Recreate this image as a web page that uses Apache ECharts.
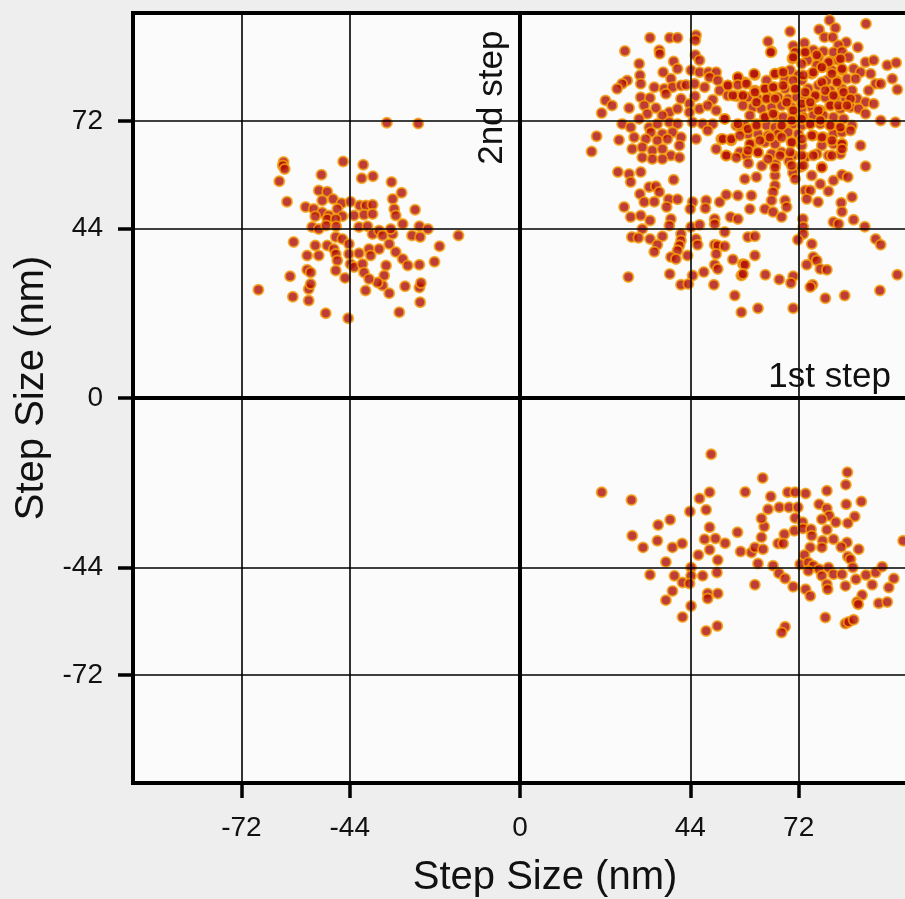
<!DOCTYPE html>
<html>
<head>
<meta charset="utf-8">
<title>Step Size Scatter</title>
<script src="https://cdn.jsdelivr.net/npm/echarts@6/dist/echarts.min.js"></script>
<style>
  html, body { margin: 0; padding: 0; background: #eeeeee; }
  #chart { width: 905px; height: 899px; }
</style>
</head>
<body>
<div id="chart"></div>
<script>
// Tick positions shown on both axes (nm)
const tickValues = [-72, -44, 0, 44, 72];
const gridValues = [-72, -44, 44, 72];

// Pairs of consecutive steps: [1st step, 2nd step] in nm
// Backward then forward: upper-left quadrant
const backForward = [
  [-34.4,71.5],[-26.3,71.3],[-61.1,61.3],[-61.3,60.4],[-60.8,59.5],[-45.7,61.4],[-40.5,60.6],
  [-62.2,56.3],[-51.3,58.0],[-40.9,57.1],[-38.0,57.6],[-33.2,56.1],[-30.6,53.3],[-60.2,51.0],
  [-52.0,53.9],[-49.8,53.6],[-51.1,51.3],[-48.3,51.7],[-46.1,50.6],[-43.8,51.0],[-55.4,49.6],
  [-53.3,49.1],[-51.1,48.2],[-49.4,47.4],[-47.2,49.1],[-45.9,47.2],[-52.9,47.2],[-49.8,46.5],
  [-47.6,46.5],[-41.4,50.0],[-39.8,50.0],[-38.1,50.2],[-42.9,47.4],[-40.3,47.6],[-38.1,47.8],
  [-32.9,51.7],[-32.5,49.1],[-32.1,47.4],[-30.3,45.2],[-27.1,48.9],[-53.7,44.4],[-52.0,43.9],
  [-50.1,44.8],[-47.5,44.6],[-41.6,44.4],[-39.4,44.6],[-26.0,44.6],[-23.8,43.9],[-15.9,42.2],
  [-58.5,40.5],[-52.9,39.6],[-49.8,39.6],[-47.6,41.8],[-45.9,41.3],[-44.2,40.0],[-48.1,38.7],
  [-38.1,42.6],[-36.4,43.5],[-35.5,42.2],[-32.9,42.6],[-33.4,43.9],[-27.9,42.2],[-25.8,41.8],
  [-55.0,37.0],[-47.6,37.4],[-44.2,37.4],[-41.6,37.6],[-39.0,38.7],[-36.4,38.7],[-33.8,40.0],
  [-32.1,37.9],[-30.3,36.1],[-29.0,34.4],[-26.0,34.6],[-20.8,39.4],[-22.1,35.4],[-52.0,37.0],
  [-47.2,35.7],[-43.8,34.8],[-42.9,34.0],[-40.7,34.8],[-38.6,37.0],[-34.6,34.4],[-35.1,31.8],
  [-35.5,29.2],[-36.8,30.0],[-55.0,33.3],[-54.1,32.6],[-47.6,33.1],[-45.2,31.2],[-40.3,32.6],
  [-39.0,30.9],[-59.4,31.6],[-67.6,28.1],[-58.7,26.3],[-54.6,28.3],[-54.1,29.6],[-54.6,25.3],
  [-50.2,22.0],[-44.4,20.7],[-39.9,27.9],[-33.8,27.2],[-29.7,29.0],[-26.0,28.7],[-25.6,29.9],
  [-25.8,24.9],[-31.2,22.3]
];

// Forward then forward: upper-right quadrant
const forwardForward = [
  [33.6,93.6],[38.7,93.6],[40.7,93.6],[45.5,94.2],[45.3,92.9],[27.1,90.1],[36.0,90.3],[36.1,89.4],
  [45.3,89.1],[46.4,87.7],[30.8,86.8],[39.7,87.4],[40.7,85.5],[37.0,84.6],[44.2,85.1],[46.4,84.6],
  [48.7,84.6],[50.7,84.6],[31.0,83.8],[39.0,82.9],[27.7,82.5],[26.4,81.6],[25.1,80.3],[31.2,81.6],
  [34.7,80.7],[37.3,80.3],[39.4,80.7],[41.6,81.2],[42.9,81.3],[45.1,81.6],[47.7,80.7],[49.0,83.3],
  [51.1,82.5],[53.7,81.2],[56.3,83.3],[51.6,79.9],[53.7,78.6],[55.9,78.4],[57.6,78.4],[31.2,78.1],
  [33.6,77.9],[37.7,79.0],[41.6,77.7],[45.2,78.4],[43.8,76.4],[49.8,77.5],[22.1,77.3],[23.8,76.0],
  [21.1,74.0],[28.2,75.3],[32.1,76.0],[35.1,75.3],[38.6,74.2],[40.7,75.1],[43.8,74.2],[46.4,75.1],
  [48.5,76.0],[50.7,74.7],[32.9,73.8],[36.8,73.4],[30.8,72.5],[26.4,71.2],[28.6,70.3],[33.4,70.3],
  [35.5,71.2],[38.6,71.6],[40.7,71.2],[44.6,71.6],[47.2,71.2],[49.8,71.2],[52.9,72.5],[55.9,70.8],
  [57.2,69.9],[33.8,69.0],[36.8,68.6],[39.4,69.0],[41.6,67.7],[48.5,69.5],[19.8,68.0],[25.6,67.0],
  [29.5,67.7],[32.5,67.3],[35.5,66.9],[38.1,67.3],[45.5,67.3],[52.0,67.3],[54.6,66.9],[18.5,64.0],
  [29.0,64.7],[31.6,65.1],[34.2,64.3],[36.8,64.7],[41.2,65.6],[39.0,63.0],[36.8,62.1],[41.2,62.5],
  [50.7,64.7],[53.3,63.0],[56.8,63.8],[31.6,62.5],[34.2,62.1],
  [80.0,98.1],[89.4,97.2],[81.5,96.1],[77.3,95.7],[69.8,95.2],[78.7,93.7],[80.8,93.7],[64.1,92.6],
  [84.3,92.4],[82.3,91.6],[65.0,90.0],[70.6,91.4],[73.5,92.2],[87.3,91.1],[71.1,89.8],[73.7,89.8],
  [75.8,90.3],[78.4,90.0],[81.0,89.8],[83.2,90.0],[70.4,88.1],[74.3,87.7],[77.1,88.5],[80.2,87.4],
  [82.3,87.7],[84.9,88.5],[89.3,87.2],[91.4,87.7],[94.9,86.4],[97.2,87.1],[78.0,85.9],[80.6,85.1],
  [83.2,85.1],[86.2,85.5],[88.0,84.6],[90.6,84.2],[60.7,83.9],[65.9,84.2],[67.6,84.6],[69.8,85.1],
  [71.9,83.8],[75.4,84.2],[76.7,86.4],[96.2,82.9],[58.1,82.0],[63.7,82.5],[68.5,82.7],[72.8,82.5],
  [79.3,82.5],[81.9,82.5],[84.5,82.9],[86.7,82.9],[91.9,81.6],[93.2,81.6],[60.7,79.9],[63.3,80.3],
  [65.7,80.7],[68.5,80.3],[71.1,80.3],[74.5,80.3],[77.1,81.2],[80.2,79.9],[83.2,80.3],[85.8,79.9],
  [90.1,79.9],[97.5,80.1],[58.9,78.1],[61.5,77.7],[64.1,78.1],[66.7,78.1],[69.3,77.7],[71.5,78.1],
  [73.7,77.7],[76.3,78.1],[78.9,78.1],[81.5,78.1],[84.1,77.7],[87.1,77.7],[89.3,76.8],[91.4,76.4],
  [57.6,76.0],[60.2,75.5],[62.4,75.1],[65.0,75.5],[67.6,76.0],[70.2,75.5],[72.8,75.1],[75.4,75.5],
  [77.6,74.7],[80.2,76.0],[82.8,75.1],[85.4,75.5],[87.5,75.1],[59.4,73.4],[63.3,72.9],[65.9,73.4],
  [68.0,72.9],[70.6,73.4],[73.2,72.9],[75.8,73.4],[78.4,73.4],[81.0,72.9],[83.6,72.5],[89.3,73.8],
  [93.2,72.1],[97.0,71.6],[58.1,70.8],[61.1,71.2],[63.7,70.8],[65.9,70.3],[68.0,70.8],[70.6,71.2],
  [72.8,70.8],[75.0,71.2],[77.6,71.2],[80.2,70.8],[82.3,70.3],[85.8,70.8],[58.9,68.6],[61.5,68.6],
  [64.1,68.2],[66.7,68.6],[69.3,69.0],[71.9,68.6],[75.8,68.2],[78.4,67.7],[81.0,68.6],[83.2,69.0],
  [59.8,66.0],[63.3,66.4],[65.9,66.0],[70.2,66.4],[72.8,65.6],[78.0,65.6],[81.0,66.0],[83.2,66.0],
  [88.0,65.6],[61.5,63.8],[65.0,63.4],[67.6,63.8],[70.6,63.0],[73.7,62.5],[76.7,63.4],[79.7,63.0],
  [82.8,63.4],[58.5,63.0],
  [59.0,61.0],[62.5,60.3],[66.0,60.8],[69.5,61.5],[72.5,60.0],[70.5,58.5],
  [25.3,58.7],[28.2,58.2],[31.2,58.7],[28.6,56.1],[39.7,56.7],[31.0,53.0],[33.4,54.8],[35.1,55.0],
  [36.0,53.5],[32.1,50.9],[34.7,51.0],[38.4,51.6],[40.7,51.6],[26.9,49.6],[28.6,47.0],[31.2,47.4],
  [33.6,46.1],[37.9,49.6],[39.0,46.5],[38.6,44.8],[31.6,43.9],[28.9,41.8],[30.6,41.6],[33.6,41.3],
  [36.8,42.0],[41.6,42.6],[41.6,40.9],[35.5,39.8],[34.7,38.0],[41.2,39.6],[40.7,38.3],[39.0,36.6],
  [40.3,36.1],[43.3,37.0],[28.0,31.4],[38.7,32.2],[44.6,31.8],[47.5,32.7],[41.6,29.4],[43.5,29.6],
  [50.1,29.4],[55.5,26.6],[57.2,22.3],[44.6,50.9],[44.0,49.1],[48.1,51.3],[47.9,49.3],[51.6,50.9],
  [53.3,52.8],[56.3,52.6],[54.4,47.0],[56.3,46.5],[50.3,46.5],[50.3,45.2],[44.2,44.4],[46.4,45.0],
  [45.5,41.3],[45.9,39.8],[52.9,43.1],[50.3,39.8],[51.1,39.6],[52.9,39.4],[50.7,37.4],[50.3,34.6],
  [51.1,33.5],[55.0,36.0],[57.2,31.8],[57.6,34.8],[58.1,56.9],
  [61.1,57.4],[65.9,57.8],[65.9,55.2],[71.1,56.9],[59.8,52.6],[65.4,53.5],[65.0,51.3],[68.5,51.3],
  [68.9,49.6],[59.4,49.1],[63.3,49.1],[65.4,48.3],[67.6,47.0],[75.4,57.8],[78.0,60.0],[81.0,56.5],
  [83.2,58.0],[84.7,57.4],[89.3,60.2],[77.6,55.6],[79.7,53.7],[73.7,53.9],[75.0,53.9],[74.1,51.7],
  [77.0,50.9],[83.0,50.7],[85.8,52.2],[83.2,48.4],[81.0,45.7],[82.3,45.2],[86.2,46.3],[89.1,44.5],
  [73.1,46.5],[73.2,44.4],[73.2,42.6],[71.8,41.1],[75.4,40.0],[91.9,41.3],[93.2,39.8],[58.9,41.8],
  [60.7,42.0],[60.7,37.0],[58.1,34.6],[57.6,32.2],[63.4,32.0],[67.0,30.8],[70.6,31.6],[70.0,29.9],
  [75.8,36.6],[76.7,35.7],[74.1,34.6],[77.6,33.5],[79.3,33.3],[75.6,29.4],[75.0,28.8],[97.5,32.0],
  [93.0,27.9],[78.9,25.9],[83.9,26.6],[61.5,23.3],[70.6,23.3],
  // densest part of the forward-forward cloud
  [64.8,89.8],[70.6,88.5],[73.7,89.8],[76.7,89.1],[79.7,87.2],[82.8,88.1],[72.8,86.8],
  [56.3,83.3],[60.5,84.2],[65.9,84.2],[68.0,84.6],[70.6,82.5],[73.2,83.8],[75.8,84.6],[78.0,85.9],
  [80.6,84.2],[83.2,85.5],[78.0,82.0],[81.9,82.0],
  [53.7,81.2],[56.3,81.3],[58.5,81.6],[60.7,79.4],[63.3,80.3],[65.4,80.7],[68.0,81.2],[71.1,80.3],
  [73.7,79.4],[76.3,78.6],[78.9,79.9],[81.0,78.6],[83.6,79.4],[85.4,77.7],
  [55.0,78.6],[57.6,78.6],[61.1,76.8],[63.7,77.7],[65.9,77.7],[68.9,76.8],[70.6,74.7],[72.8,76.4],
  [75.0,76.8],[77.1,74.7],[80.2,76.0],[82.3,76.0],[84.5,76.0],
  [52.9,72.5],[56.3,71.2],[58.9,69.9],[61.1,70.8],[63.3,72.9],[65.4,73.8],[67.6,70.8],[70.2,72.1],
  [72.8,72.5],[75.0,71.2],[77.6,72.1],[80.2,70.8],[82.8,70.3],[85.4,69.5],
  [52.4,67.3],[54.6,67.3],[56.8,68.2],[59.4,66.0],[62.0,66.9],[64.6,67.7],[67.6,67.7],[70.2,66.4],
  [72.8,67.3],[75.4,68.2],[78.0,67.7],[80.6,66.9],[83.2,66.0],
  [53.3,63.0],[55.9,62.5],[58.9,64.3],[61.5,63.8],[64.1,62.1],[67.2,63.0],[69.8,63.8],[72.8,63.0],
  [75.8,63.0],[80.6,63.0],[83.2,64.7],[65.9,59.9],[70.2,60.4],[73.2,60.4],[78.0,59.9]
];

// Forward then backward: lower-right quadrant
const forwardBack = [
  [49.4,-14.6],[62.7,-20.8],[21.1,-24.5],[28.8,-26.5],[58.2,-24.4],[46.4,-26.1],[49.0,-24.5],
  [43.9,-29.5],[48.1,-29.0],[35.7,-33.0],[38.8,-31.6],[29.0,-35.8],[35.5,-37.1],[31.8,-38.8],
  [39.4,-38.8],[41.9,-37.8],[49.0,-33.6],[47.7,-36.7],[49.0,-39.4],[50.5,-36.5],[53.0,-37.7],
  [46.1,-40.8],[51.1,-42.1],[56.2,-34.9],[37.7,-42.6],[33.6,-45.9],[39.9,-46.2],[42.0,-47.9],
  [44.2,-44.0],[44.2,-46.2],[43.8,-48.2],[47.2,-46.2],[50.9,-45.3],[39.4,-50.1],[37.7,-52.5],
  [48.5,-50.8],[51.1,-50.8],[48.5,-52.1],[44.2,-54.0],[42.0,-56.9],[48.1,-60.5],[51.0,-59.2],
  [57.0,-39.9],[59.8,-40.1],[60.7,-38.8],[62.8,-39.3],[62.4,-36.2],[63.1,-33.4],[62.4,-31.3],
  [61.5,-43.0],[60.7,-48.5],[64.8,-25.6],[64.1,-28.9],[67.0,-28.4],[69.5,-28.4],[69.2,-24.5],
  [71.1,-24.5],[71.8,-28.4],[73.8,-24.8],[68.3,-35.4],[66.7,-37.8],[68.0,-37.8],[65.4,-43.6],
  [66.9,-45.5],[68.5,-46.9],[70.6,-49.0],[71.1,-31.2],[73.0,-32.3],[70.9,-34.5],[73.1,-33.9],
  [75.2,-34.1],[75.4,-35.8],[75.0,-38.8],[73.5,-40.8],[72.4,-43.2],[74.5,-42.7],[75.8,-43.6],
  [74.5,-44.9],[77.3,-44.5],[78.0,-46.2],[79.7,-44.0],[81.0,-45.8],[73.8,-49.7],[75.0,-51.4],
  [68.5,-59.4],[67.6,-60.9],[78.9,-57.0],[79.3,-24.1],[77.3,-27.6],[79.3,-28.7],[79.9,-30.6],
  [78.0,-31.5],[81.6,-32.3],[79.3,-34.2],[81.0,-36.7],[78.2,-37.1],[78.0,-38.8],[84.6,-19.3],
  [84.2,-22.5],[84.3,-27.6],[88.2,-26.9],[86.5,-30.8],[84.7,-32.5],[84.5,-37.5],[83.0,-38.7],
  [87.5,-39.3],[84.7,-41.2],[85.4,-41.9],[86.0,-44.0],[83.2,-45.8],[79.3,-48.4],[79.5,-49.7],
  [84.1,-48.8],[86.8,-47.1],[89.4,-46.0],[91.9,-45.3],[93.6,-43.8],[96.6,-46.9],[95.3,-49.2],
  [91.0,-48.5],[88.4,-51.2],[87.1,-53.0],[87.4,-53.6],[92.7,-53.3],[94.9,-53.0],[99.0,-37.1],
  [84.1,-58.6],[84.9,-58.2],[86.2,-57.6]
];

const FONT = '"Liberation Sans", Arial, Helvetica, sans-serif';

const chart = echarts.init(document.getElementById('chart'), null, { renderer: 'canvas' });

const valueAxis = (extra) => Object.assign({
  type: 'value',
  min: -100,
  max: 100,
  axisLine: { show: false, onZero: false },
  splitLine: { show: false },
  axisTick: {
    show: true,
    inside: false,
    length: 15,
    customValues: tickValues,
    lineStyle: { color: '#000', width: 3.5 }
  },
  name: 'Step Size (nm)',
  nameLocation: 'middle'
}, extra);

const dotStyle = {
  color: '#b00e06',
  borderColor: '#f4a00a',
  borderWidth: 2
};

const referenceLines = [];
gridValues.forEach(v => {
  referenceLines.push({ xAxis: v, lineStyle: { width: 1.6 } });
  referenceLines.push({ yAxis: v, lineStyle: { width: 1.6 } });
});
referenceLines.push({ xAxis: 0, lineStyle: { width: 4 } });
referenceLines.push({ yAxis: 0, lineStyle: { width: 4 } });

const option = {
  backgroundColor: '#eeeeee',
  animation: false,
  grid: {
    left: 133,
    top: 13,
    width: 774,
    height: 770,
    outerBoundsMode: 'none',
    show: true,
    backgroundColor: '#fbfbfc',
    borderColor: '#000',
    borderWidth: 4
  },
  xAxis: valueAxis({
    nameGap: 75,
    nameTextStyle: { color: '#111', fontSize: 40, fontFamily: FONT, padding: [0, 0, 0, 50] },
    axisLabel: { customValues: tickValues, color: '#111', fontSize: 28, fontFamily: FONT, margin: 31 }
  }),
  yAxis: valueAxis({
    nameGap: 80,
    nameRotate: 90,
    nameTextStyle: { color: '#111', fontSize: 40, fontFamily: FONT, padding: [0, 0, 0, 20] },
    axisLabel: { customValues: tickValues, color: '#111', fontSize: 28, fontFamily: FONT, margin: 30 }
  }),
  series: [
    {
      type: 'scatter',
      z: 1,
      data: [],
      silent: true,
      markLine: {
        silent: true,
        symbol: 'none',
        label: { show: false },
        lineStyle: { color: '#000', type: 'solid' },
        data: referenceLines
      }
    },
    { name: 'backward-forward', type: 'scatter', z: 3, symbolSize: 10, itemStyle: dotStyle, data: backForward },
    { name: 'forward-forward', type: 'scatter', z: 3, symbolSize: 10, itemStyle: dotStyle, data: forwardForward },
    { name: 'forward-backward', type: 'scatter', z: 3, symbolSize: 10, itemStyle: dotStyle, data: forwardBack }
  ]
};

chart.setOption(option);

// Quadrant labels placed in data space
const p2 = chart.convertToPixel({ gridIndex: 0 }, [-2.5, 78]);
const p1 = chart.convertToPixel({ gridIndex: 0 }, [80, 0.9]);
chart.setOption({
  graphic: [
    {
      type: 'text',
      x: p2[0], y: p2[1],
      rotation: Math.PI / 2,
      z: 10,
      style: {
        text: '2nd step', fontSize: 35, fontFamily: FONT, fill: '#111',
        align: 'center', verticalAlign: 'bottom'
      }
    },
    {
      type: 'text',
      x: p1[0], y: p1[1],
      z: 10,
      style: {
        text: '1st step', fontSize: 35, fontFamily: FONT, fill: '#111',
        align: 'center', verticalAlign: 'bottom'
      }
    }
  ]
});
</script>
</body>
</html>
